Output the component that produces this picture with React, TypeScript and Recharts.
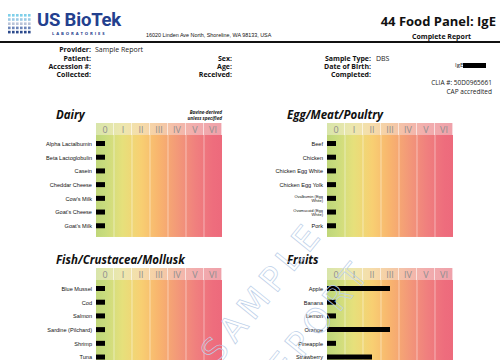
import React from "react";
import { BarChart, Bar, XAxis, YAxis, CartesianGrid } from "recharts";

const CLASS_LABELS = ["0", "I", "II", "III", "IV", "V", "VI"];
const CLASS_TICKS = [0.5, 1.5, 2.5, 3.5, 4.5, 5.5, 6.5];
const CLASS_BOUNDS = [1, 2, 3, 4, 5, 6];

const DAIRY = ["Alpha Lactalbumin", "Beta Lactoglobulin", "Casein", "Cheddar Cheese", "Cow's Milk", "Goat's Cheese", "Goat's Milk"];
const DAIRY_SCORES = [0.5, 0.5, 0.5, 0.5, 0.5, 0.5, 0.5];

const EGG_MEAT = ["Beef", "Chicken", "Chicken Egg White", "Chicken Egg Yolk", "Ovalbumin (Egg White)", "Ovomucoid (Egg White)", "Pork"];
const EGG_MEAT_SCORES = [0.5, 0.5, 0.5, 0.5, 0.5, 0.5, 0.5];

const FISH = ["Blue Mussel", "Cod", "Salmon", "Sardine (Pilchard)", "Shrimp", "Tuna"];
const FISH_SCORES = [0.5, 0.5, 0.5, 0.5, 0.5, 0.5];

const FRUITS = ["Apple", "Banana", "Lemon", "Orange", "Pineapple", "Strawberry"];
const FRUIT_SCORES = [3.5, 0.5, 0.5, 3.5, 0.5, 2.5];

const CHART_W = 230;
const LABEL_W = 96;
const PLOT_W = 126;
const COL_W = PLOT_W / 7;
const HDR_H = 12;
const ROW_H = 13.71;

function HeaderTick(props: any) {
  const { x, index } = props;
  return (
    <g>
      <rect x={x - COL_W / 2} y={0} width={COL_W - 0.6} height={HDR_H} fill="url(#hdrGrad)" />
      <text x={x} y={9.6} textAnchor="middle" fontSize={9} fontFamily="Open Sans" fill="#8f8f8f">
        {CLASS_LABELS[index]}
      </text>
    </g>
  );
}

function RowTick(props: any) {
  const { x, y, payload } = props;
  const label: string = payload.value;
  if (label.length > 19) {
    const cut = label.lastIndexOf(" ");
    return (
      <g>
        <text x={x} y={y - 0.6} textAnchor="end" fontSize={4} fontFamily="Liberation Sans" fill="#111">
          {label.slice(0, cut)}
        </text>
        <text x={x} y={y + 3.6} textAnchor="end" fontSize={4} fontFamily="Liberation Sans" fill="#111">
          {label.slice(cut + 1)}
        </text>
      </g>
    );
  }
  return (
    <text x={x} y={y} dy="0.35em" textAnchor="end" fontSize={5.6} fontFamily="Liberation Sans" fill="#111">
      {label}
    </text>
  );
}

// white separators between the seven classes, from the plot offset
const classLines = ({ offset }: any) => CLASS_BOUNDS.map((b) => offset.left + (b * offset.width) / 7);

function Panel({ names, scores }: { names: string[]; scores: number[] }) {
  const data = names.map((name, i) => ({ name, score: scores[i] }));
  const height = HDR_H + names.length * ROW_H + 6;
  return (
    <BarChart layout="vertical" width={CHART_W} height={height} data={data} margin={{ top: 0, right: 8, bottom: 0, left: 0 }}>
      <CartesianGrid
        horizontal={false}
        vertical={true}
        verticalCoordinatesGenerator={classLines}
        stroke="#ffffff"
        strokeOpacity={0.45}
        fill="url(#plotGrad)"
        fillOpacity={1}
      />
      <XAxis
        type="number"
        orientation="top"
        domain={[0, 7]}
        ticks={CLASS_TICKS}
        interval={0}
        height={HDR_H}
        axisLine={false}
        tickLine={false}
        tick={<HeaderTick />}
      />
      <YAxis
        type="category"
        dataKey="name"
        width={LABEL_W}
        axisLine={false}
        tickLine={false}
        tickSize={0}
        tickMargin={4}
        interval={0}
        padding={{ top: 2, bottom: 4 }}
        tick={<RowTick />}
      />
      <Bar dataKey="score" fill="#000" barSize={5} isAnimationActive={false} />
    </BarChart>
  );
}

const abs = (left: number, top: number, extra: React.CSSProperties = {}): React.CSSProperties => ({
  position: "absolute",
  left,
  top,
  whiteSpace: "nowrap",
  lineHeight: 1,
  ...extra,
});

const rabs = (right: number, top: number, extra: React.CSSProperties = {}): React.CSSProperties => ({
  position: "absolute",
  right: 500 - right,
  top,
  whiteSpace: "nowrap",
  lineHeight: 1,
  textAlign: "right",
  ...extra,
});

const bold7: React.CSSProperties = { fontFamily: "Open Sans", fontWeight: 700, fontSize: 7, color: "#111" };
const reg7: React.CSSProperties = { fontFamily: "Open Sans", fontWeight: 400, fontSize: 7, color: "#222" };
const titleStyle: React.CSSProperties = { fontFamily: "Open Sans", fontWeight: 700, fontStyle: "italic", fontSize: 11.5, color: "#111" };

const DOT_ROWS = ["#7fd0ea", "#9cc9e4", "#b9c3d8", "#6d86b9", "#2c4a8c"];

export default function App() {
  return (
    <div style={{ position: "absolute", left: 0, top: 0, width: 500, height: 360, overflow: "hidden", background: "#fff" }}>
      <svg width={0} height={0} style={{ position: "absolute" }}>
        <defs>
          <linearGradient id="plotGrad" x1="0" x2="1" y1="0" y2="0">
            <stop offset="0" stopColor="#bfd679" />
            <stop offset="0.07" stopColor="#c8dc7d" />
            <stop offset="0.21" stopColor="#e6e07b" />
            <stop offset="0.36" stopColor="#f8cf72" />
            <stop offset="0.5" stopColor="#f8b46e" />
            <stop offset="0.64" stopColor="#f39a78" />
            <stop offset="0.79" stopColor="#f0807e" />
            <stop offset="0.93" stopColor="#ee6d7d" />
            <stop offset="1" stopColor="#ed6a7c" />
          </linearGradient>
          <linearGradient id="hdrGrad" gradientUnits="userSpaceOnUse" x1={LABEL_W} x2={LABEL_W + PLOT_W} y1="0" y2="0">
            <stop offset="0" stopColor="#d8e5aa" />
            <stop offset="0.21" stopColor="#ede7ae" />
            <stop offset="0.36" stopColor="#f6dcaa" />
            <stop offset="0.5" stopColor="#f5cda6" />
            <stop offset="0.64" stopColor="#f4bcaa" />
            <stop offset="0.79" stopColor="#f2adae" />
            <stop offset="1" stopColor="#efa1aa" />
          </linearGradient>
        </defs>
      </svg>

      {/* logo */}
      <svg width={26} height={24} style={{ position: "absolute", left: 8, top: 14 }}>
        {DOT_ROWS.map((c, r) =>
          [0, 1, 2, 3, 4, 5].map((k) => (
            <rect key={`${r}-${k}`} x={k * 4} y={r * 4.2} width={2.6} height={2.6} fill={c} />
          ))
        )}
      </svg>
      <div style={abs(37, 11, { fontFamily: "Roboto", fontWeight: 700, fontSize: 18.5, color: "#23408e", letterSpacing: -0.2 })}>US BioTek</div>
      <div style={abs(52, 31.5, { fontFamily: "Open Sans", fontWeight: 700, fontSize: 4.2, color: "#23408e", letterSpacing: 1.9 })}>LABORATORIES</div>
      <div style={abs(146, 33, { fontFamily: "Liberation Sans", fontSize: 5.4, color: "#111" })}>16020 Linden Ave North, Shoreline, WA 98133, USA</div>
      <div style={rabs(496, 15, { fontFamily: "Open Sans", fontWeight: 700, fontSize: 13, color: "#111" })}>44 Food Panel: IgE</div>
      <div style={abs(412, 32.5, { fontFamily: "Open Sans", fontWeight: 700, fontSize: 7, color: "#111" })}>Complete Report</div>
      <div style={{ position: "absolute", left: 0, top: 41, width: 500, height: 2, background: "#111" }} />

      {/* patient info */}
      <div style={rabs(91, 46, bold7)}>Provider:</div>
      <div style={abs(95, 46, reg7)}>Sample Report</div>
      <div style={rabs(91, 55, bold7)}>Patient:</div>
      <div style={rabs(91, 63, bold7)}>Accession #:</div>
      <div style={rabs(91, 71, bold7)}>Collected:</div>
      <div style={rabs(232, 55, bold7)}>Sex:</div>
      <div style={rabs(232, 63, bold7)}>Age:</div>
      <div style={rabs(232, 71, bold7)}>Received:</div>
      <div style={rabs(371, 55, bold7)}>Sample Type:</div>
      <div style={abs(376, 55, reg7)}>DBS</div>
      <div style={rabs(371, 63, bold7)}>Date of Birth:</div>
      <div style={rabs(371, 71, bold7)}>Completed:</div>
      <div style={abs(455, 62, { ...reg7, fontSize: 6 })}>IgE</div>
      <div style={{ position: "absolute", left: 463, top: 63, width: 23, height: 5, background: "#000" }} />
      <div style={rabs(492, 80, { ...reg7, fontSize: 6.5 })}>CLIA #: 50D0965661</div>
      <div style={rabs(492, 89, { ...reg7, fontSize: 6.5 })}>CAP accredited</div>

      {/* section titles */}
      <div style={abs(56, 109, titleStyle)}>Dairy</div>
      <div style={abs(287, 109, titleStyle)}>Egg/Meat/Poultry</div>
      <div style={abs(56, 254, titleStyle)}>Fish/Crustacea/Mollusk</div>
      <div style={abs(287, 254, titleStyle)}>Fruits</div>
      <div style={rabs(222, 110, { fontFamily: "Open Sans", fontWeight: 700, fontStyle: "italic", fontSize: 4.6, color: "#222", lineHeight: 1.2 })}>
        Bovine-derived
        <br />
        unless specified
      </div>

      <div style={{ position: "absolute", left: 0, top: 123 }}>
        <Panel names={DAIRY} scores={DAIRY_SCORES} />
      </div>
      <div style={{ position: "absolute", left: 231, top: 123 }}>
        <Panel names={EGG_MEAT} scores={EGG_MEAT_SCORES} />
      </div>
      <div style={{ position: "absolute", left: 0, top: 268 }}>
        <Panel names={FISH} scores={FISH_SCORES} />
      </div>
      <div style={{ position: "absolute", left: 231, top: 268 }}>
        <Panel names={FRUITS} scores={FRUIT_SCORES} />
      </div>

      {/* watermark */}
      <svg width={500} height={360} style={{ position: "absolute", left: 0, top: 0, pointerEvents: "none" }}>
        <g fill="none" stroke="#bccfe9" strokeWidth={0.7} fontFamily="DejaVu Sans" fontSize={34} letterSpacing={6}>
          <text x={262} y={304} textAnchor="middle" transform="rotate(-51 262 292)">SAMPLE</text>
          <text x={310} y={342} textAnchor="middle" transform="rotate(-51 310 330)">REPORT</text>
        </g>
      </svg>
    </div>
  );
}
